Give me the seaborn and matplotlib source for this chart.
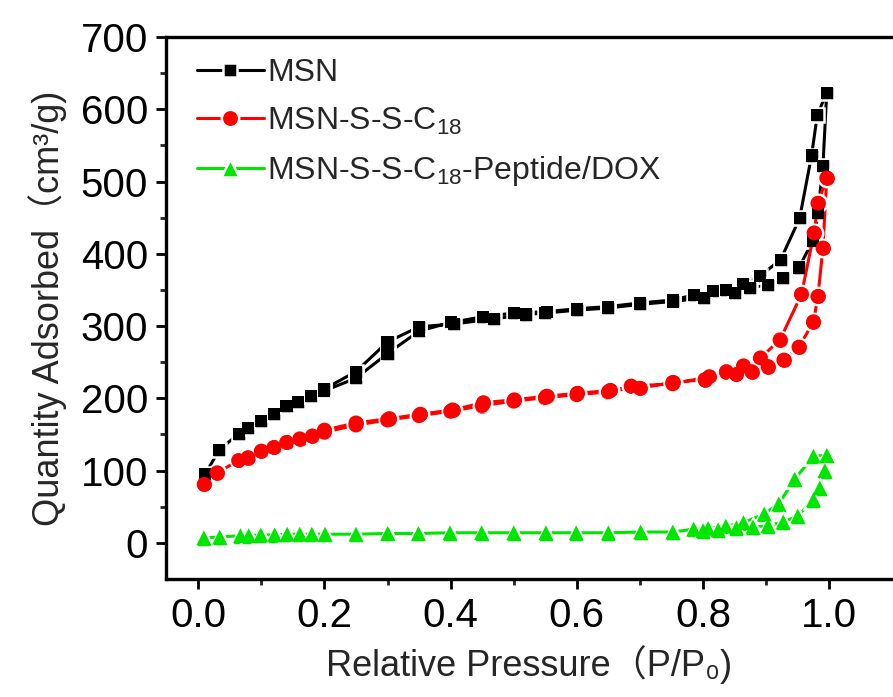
import numpy as np
import pandas as pd
import matplotlib
matplotlib.use("Agg")
import matplotlib.pyplot as plt
import seaborn as sns

# ---------------- data ----------------
series_names = ["MSN", "MSN-S-S-C$_{18}$", "MSN-S-S-C$_{18}$-Peptide/DOX"]

# MSN: adsorption branch (up) then desorption branch (down)
msn_ads_x = [0.011, 0.033, 0.064, 0.079, 0.100, 0.120, 0.140, 0.158, 0.179, 0.199,
             0.250, 0.300, 0.350, 0.400, 0.452, 0.500, 0.553, 0.600, 0.650, 0.700,
             0.752, 0.785, 0.816, 0.837, 0.864, 0.890, 0.923, 0.953, 0.972, 0.981, 0.996]
msn_ads_y = [95, 128, 151, 159, 169, 178, 189, 195, 203, 210,
             228, 262, 293, 305, 313, 318, 320, 324, 327, 332,
             336, 343, 348, 350, 358, 369, 392, 449, 536, 592, 623]
msn_des_x = [0.990, 0.982, 0.974, 0.952, 0.927, 0.903, 0.874, 0.851, 0.801, 0.752,
             0.700, 0.650, 0.600, 0.550, 0.519, 0.469, 0.406, 0.350, 0.300, 0.250, 0.200]
msn_des_y = [522, 456, 418, 381, 367, 357, 353, 346, 339, 334,
             330, 325, 322, 318, 316, 310, 303, 299, 278, 237, 213]

# MSN-S-S-C18
c18_ads_x = [0.0095, 0.030, 0.064, 0.079, 0.100, 0.120, 0.140, 0.161, 0.181, 0.200,
             0.250, 0.300, 0.350, 0.400, 0.450, 0.500, 0.550, 0.600, 0.650, 0.686,
             0.752, 0.810, 0.837, 0.864, 0.891, 0.922, 0.956, 0.976, 0.982, 0.996]
c18_ads_y = [81, 97, 114, 118, 127, 132, 139, 144, 148, 153,
             163, 170, 176, 182, 190, 196, 201, 205, 209, 217,
             220, 230, 237, 245, 256, 281, 344, 429, 470, 505]
c18_des_x = [0.990, 0.982, 0.975, 0.952, 0.928, 0.903, 0.877, 0.853, 0.803, 0.752,
             0.700, 0.653, 0.601, 0.552, 0.501, 0.452, 0.403, 0.352, 0.303, 0.250, 0.200]
c18_des_y = [408, 341, 306, 271, 253, 244, 237, 233, 226, 222,
             214, 211, 207, 203, 198, 194, 184, 178, 172, 166, 156]

# MSN-S-S-C18-Peptide/DOX
dox_ads_x = [0.009, 0.034, 0.067, 0.080, 0.099, 0.121, 0.141, 0.161, 0.180, 0.201,
             0.250, 0.300, 0.349, 0.399, 0.449, 0.500, 0.551, 0.599, 0.650, 0.701,
             0.752, 0.785, 0.808, 0.836, 0.864, 0.897, 0.920, 0.945, 0.975, 0.996]
dox_ads_y = [7, 8, 10, 10, 11, 11, 12, 12, 12, 12,
             12, 13, 13, 14, 14, 14, 14, 14, 14, 15,
             15, 19, 20, 23, 28, 40, 54, 88, 120, 121]
dox_des_x = [0.993, 0.985, 0.975, 0.950, 0.927, 0.903, 0.879, 0.853, 0.824, 0.800]
dox_des_y = [100, 76, 60, 37, 29, 24, 22, 21, 18, 17]

x_ticks = [0.0, 0.2, 0.4, 0.6, 0.8, 1.0]
y_ticks = [0, 100, 200, 300, 400, 500, 600, 700]

# ---------------- styling ----------------
sns.set_style("ticks")
plt.rcParams["font.family"] = ["Liberation Sans", "Noto Sans CJK SC", "DejaVu Sans"]
plt.rcParams["mathtext.fontset"] = "custom"
plt.rcParams["mathtext.rm"] = "Liberation Sans"
plt.rcParams["mathtext.it"] = "Liberation Sans"
plt.rcParams["mathtext.default"] = "regular"

fig = plt.figure(figsize=(8.93, 6.97), dpi=100)
ax = fig.add_axes([166 / 893, 118 / 697, 1 - 166 / 893, 542 / 697])

colors = ["#000000", "#ff0000", "#00e600"]
markers = ["s", "o", "^"]
msizes = [10.5, 12.5, 12.5]
edge_w = 1.8

data = [
    (msn_ads_x + msn_des_x, msn_ads_y + msn_des_y),
    (c18_ads_x + c18_des_x, c18_ads_y + c18_des_y),
    (dox_ads_x + dox_des_x, dox_ads_y + dox_des_y),
]
frames = [pd.DataFrame({"x": xs, "y": ys}) for xs, ys in data]

# layer 1: connecting lines with white-rimmed markers (gap around symbols)
for df, name, col, mk, ms in zip(frames, series_names, colors, markers, msizes):
    sns.lineplot(data=df, x="x", y="y", sort=False, estimator=None, ax=ax,
                 color=col, marker=mk, markersize=ms, linewidth=2.2,
                 markeredgecolor="white", markeredgewidth=edge_w,
                 markerfacecolor=col, label=name, zorder=2)

# layer 2: solid symbols on top so overlapping symbols merge cleanly
for df, col, mk, ms in zip(frames, colors, markers, msizes):
    sns.scatterplot(data=df, x="x", y="y", ax=ax, marker=mk, color=col,
                    s=(ms - edge_w) ** 2, linewidth=0, edgecolor="none",
                    legend=False, zorder=3)

ax.set_xlim(-0.051, 1.101)
ax.set_ylim(-50, 700)
ax.set_xticks(x_ticks)
ax.set_xticklabels([f"{v:.1f}" for v in x_ticks])
ax.set_yticks(y_ticks)
ax.set_xticks([0.1, 0.3, 0.5, 0.7, 0.9], minor=True)
ax.set_yticks([50, 150, 250, 350, 450, 550, 650], minor=True)

for s in ["left", "top", "bottom"]:
    ax.spines[s].set_linewidth(2.4)
    ax.spines[s].set_color("black")
ax.spines["right"].set_visible(False)

ax.tick_params(axis="both", which="major", direction="out", length=7, width=2.0,
               labelsize=29, colors="black", pad=6)
ax.tick_params(axis="both", which="minor", direction="out", length=4, width=2.0)
ax.tick_params(axis="x", top=False)

lab_family = ["Liberation Sans", "Noto Sans CJK SC", "DejaVu Sans"]
ax.set_xlabel("Relative Pressure\uff08P/P\u2080)", fontsize=26, labelpad=7,
              family=lab_family)
ax.set_ylabel("Quantity Adsorbed\uff08cm\u00b3/g)", fontsize=26, labelpad=10,
              family=lab_family)

leg = ax.legend(loc="upper left", bbox_to_anchor=(0.025, 0.985), frameon=False,
                fontsize=23, handlelength=2.1, handletextpad=0.1,
                labelspacing=0.55, borderaxespad=0.0, numpoints=1)

fig.savefig("out.png", dpi=100)
